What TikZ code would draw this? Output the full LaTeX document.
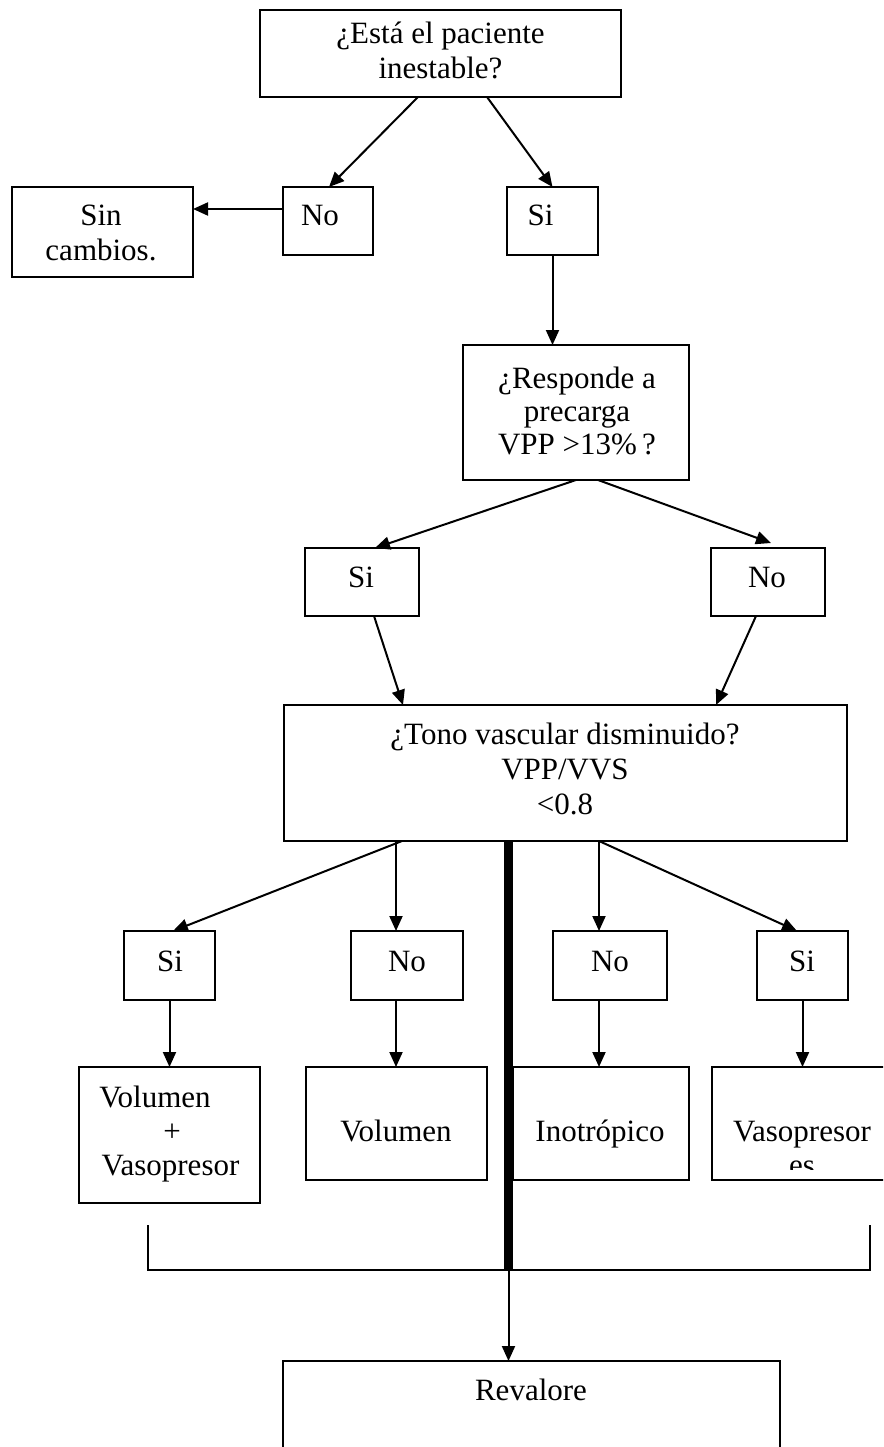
\documentclass[tikz,border=0pt]{standalone}
\usepackage{fontspec}
\setmainfont{Liberation Serif}
\usetikzlibrary{arrows.meta,calc}
\tikzset{
  box/.style={draw=black, line width=2pt, fill=white, rectangle, inner sep=0pt, outer sep=0pt},
  txt/.style={inner sep=0pt, outer sep=0pt, anchor=base, font=\fontsize{31}{35}\selectfont},
  conn/.style={draw=black, line width=2pt, -{Triangle[length=15pt,width=13pt]}},
  plain/.style={draw=black, line width=2pt},
  heavy/.style={draw=black, line width=9.5pt}
}
\begin{document}
\begin{tikzpicture}[x=1pt,y=-1pt]
\useasboundingbox (0,0) rectangle (883,1447);
\clip (0,0) rectangle (883,1447);
\fill[white] (0,0) rectangle (883,1447);

% boxes
\node[box, minimum width=361pt, minimum height=87pt] (top) at (440.5,53.5) {};
\node[box, minimum width=90pt, minimum height=68pt] (nob) at (328,221) {};
\node[box, minimum width=181pt, minimum height=90pt] (sinc) at (102.5,232) {};
\node[box, minimum width=91pt, minimum height=68pt] (sib) at (552.5,221) {};
\node[box, minimum width=226pt, minimum height=135pt] (resp) at (576,412.5) {};
\node[box, minimum width=114pt, minimum height=68pt] (si2) at (362,582) {};
\node[box, minimum width=114pt, minimum height=68pt] (no2) at (768,582) {};
\node[box, minimum width=563pt, minimum height=136pt] (tono) at (565.5,773) {};
\node[box, minimum width=91pt, minimum height=69pt] (si3) at (169.5,965.5) {};
\node[box, minimum width=112pt, minimum height=69pt] (no3) at (407,965.5) {};
\node[box, minimum width=114pt, minimum height=69pt] (no4) at (610,965.5) {};
\node[box, minimum width=91pt, minimum height=69pt] (si4) at (802.5,965.5) {};
\node[box, minimum width=181pt, minimum height=136pt] (volvaso) at (169.5,1135) {};
\node[box, minimum width=181pt, minimum height=113pt] (vol) at (396.5,1123.5) {};
\node[box, minimum width=176pt, minimum height=113pt] (ino) at (601,1123.5) {};
\node[box, minimum width=180pt, minimum height=113pt] (vaso) at (802,1123.5) {};
\node[box, minimum width=497pt, minimum height=118pt] (rev) at (531.5,1420) {};

% texts
\node[txt] (t1a) at (440.5,44) {¿Está el paciente};
\node[txt] (t1b) at (440.5,79) {inestable?};
\node[txt] (tno) at (320,226) {No};
\node[txt] (tsi) at (540.5,226) {Si};
\node[txt] (tsa) at (101,226) {Sin};
\node[txt] (tsb) at (101,260) {cambios.};
\node[txt] (tra) at (577,388) {¿Responde a};
\node[txt] (trb) at (577,421) {precarga};
\node[txt] (trc) at (577,454) {VPP >13\%\,?};
\node[txt] (tsi2) at (361,587) {Si};
\node[txt] (tno2) at (767,587) {No};
\node[txt] (tta) at (565,744) {¿Tono vascular disminuido?};
\node[txt] (ttb) at (565,779) {VPP/VVS};
\node[txt] (ttc) at (565,814) {<0.8};
\node[txt] (tsi3) at (170,971) {Si};
\node[txt] (tno3) at (407,971) {No};
\node[txt] (tno4) at (610,971) {No};
\node[txt] (tsi4) at (802,971) {Si};
\node[txt] (tvva) at (155,1107) {Volumen};
\node[txt] (tvvb) at (172,1141) {+};
\node[txt] (tvvc) at (170.5,1175) {Vasopresor};
\node[txt] (tvol) at (396,1141) {Volumen};
\node[txt] (tino) at (600,1141) {Inotrópico};
\node[txt] (tvaa) at (802,1141) {Vasopresor};
\begin{scope}
\clip (712,1067) rectangle (892,1169);
\node[txt] (tvab) at (802,1175) {es};
\end{scope}
\node[txt] (trev) at (531,1400) {Revalore};

% connectors
\draw[conn] ([xshift=-22.5pt]top.south) -- ([xshift=1pt]nob.north);
\draw[conn] ([xshift=46.5pt]top.south) -- (sib.north);
\draw[conn] ([yshift=12pt]nob.west) -- ([yshift=12pt]nob.west -| sinc.east);
\draw[conn] (sib.south) -- (sib.south |- resp.north);
\draw[conn] (resp.south) -- ([xshift=13pt]si2.north);
\draw[conn] ([xshift=22pt]resp.south) -- ([xshift=3pt,yshift=5pt]no2.north);
\draw[conn] ([xshift=12pt]si2.south) -- ([xshift=-162.5pt]tono.north);
\draw[conn] ([xshift=-12pt]no2.south) -- ([xshift=150.5pt]tono.north);
\draw[conn] ([xshift=-163.5pt]tono.south) -- ([xshift=3.5pt]si3.north);
\draw[conn] ([xshift=-11pt]no3.north |- tono.south) -- ([xshift=-11pt]no3.north);
\draw[conn] ([xshift=-11pt]no4.north |- tono.south) -- ([xshift=-11pt]no4.north);
\draw[conn] ([xshift=-11pt]no4.north |- tono.south) -- ([xshift=-5.5pt]si4.north);
\draw[conn] (si3.south) -- (si3.south |- volvaso.north);
\draw[conn] ([xshift=-11pt]no3.south) -- ([xshift=-11pt]no3.south |- vol.north);
\draw[conn] ([xshift=-11pt]no4.south) -- ([xshift=-11pt]no4.south |- ino.north);
\draw[conn] (si4.south) -- (si4.south |- vaso.north);

% junction, thick bar and bracket
\coordinate (jn) at (508.5,1270);
\coordinate (bl) at (148,1225);
\coordinate (br) at (870,1225);
\draw[heavy] (tono.south -| jn) -- (jn);
\draw[plain] (bl) -- (bl |- jn) -- (br |- jn) -- (br);
\draw[conn] (jn) -- (jn |- rev.north);
\end{tikzpicture}
\end{document}
